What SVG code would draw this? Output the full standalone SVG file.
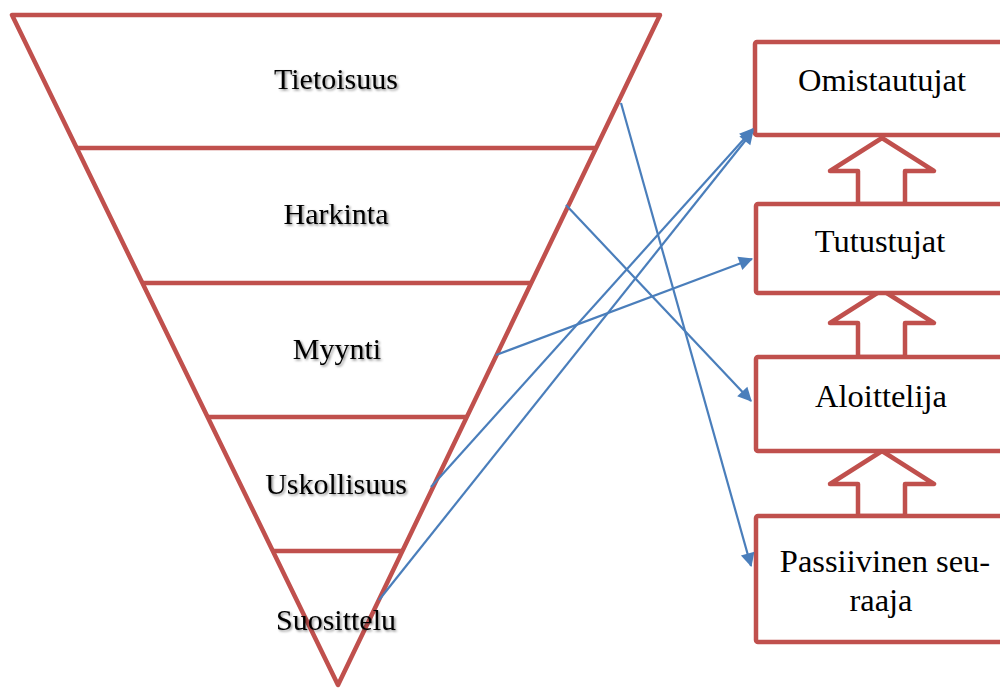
<svg xmlns="http://www.w3.org/2000/svg" width="1000" height="689" viewBox="0 0 1000 689">
<defs>
<style>
.red{fill:none;stroke:#C0504D;stroke-width:4.5;stroke-linejoin:round}
.box{fill:#FFFFFF;stroke:#C0504D;stroke-width:4.5;stroke-linejoin:round}
.con{fill:none;stroke:#4A7EBB;stroke-width:2.2}
.lbl{font-family:"Liberation Serif","Times New Roman",serif;font-size:30px;fill:#000;text-anchor:middle}
.blbl{font-family:"Liberation Serif","Times New Roman",serif;font-size:32.5px;fill:#000;text-anchor:middle}
</style>
<filter id="sh" x="-10%" y="-30%" width="130%" height="160%">
<feDropShadow dx="1.5" dy="1.5" stdDeviation="1" flood-color="#000" flood-opacity="0.45"/>
</filter>
<marker id="ah" viewBox="0 0 10 10" refX="9" refY="5" markerWidth="7" markerHeight="7" markerUnits="userSpaceOnUse" orient="auto" overflow="visible">
<path d="M0,0 L10,5 L0,10 z" fill="#4A7EBB" transform="scale(2) translate(-4.7,-2.6)"/>
</marker>
</defs>
<rect width="1000" height="689" fill="#FFFFFF"/>
<g id="funnel">
<path class="red" d="M12,15 L660,15 L338,685 Z"/>
<line class="red" x1="77" y1="148" x2="596" y2="148"/>
<line class="red" x1="142" y1="283" x2="531" y2="283"/>
<line class="red" x1="208" y1="417" x2="466" y2="417"/>
<line class="red" x1="272" y1="551" x2="402" y2="551"/>
</g>
<g id="funnel-labels" filter="url(#sh)">
<text id="tietoisuus" class="lbl" x="336" y="89">Tietoisuus</text>
<text id="harkinta" class="lbl" x="336" y="224">Harkinta</text>
<text id="myynti" class="lbl" x="337" y="359">Myynti</text>
<text id="uskollisuus" class="lbl" x="336" y="494">Uskollisuus</text>
<text id="suosittelu" class="lbl" x="336" y="630">Suosittelu</text>
</g>
<g id="up-arrows">
<path class="box" d="M882,138 L934,171 L905,171 L905,204 L858,204 L858,171 L830,171 Z"/>
<path class="box" d="M882,290 L934,323 L905,323 L905,357 L858,357 L858,323 L830,323 Z"/>
<path class="box" d="M882,451 L934,484 L905,484 L905,516 L858,516 L858,484 L830,484 Z"/>
</g>
<g id="omistautujat">
<rect class="box" x="755" y="42" width="260" height="93" rx="2"/>
<text class="blbl" x="882" y="91">Omistautujat</text>
</g>
<g id="tutustujat">
<rect class="box" x="756" y="204" width="260" height="89" rx="2"/>
<text class="blbl" x="880" y="252">Tutustujat</text>
</g>
<g id="aloittelija">
<rect class="box" x="756" y="357" width="260" height="94" rx="2"/>
<text class="blbl" x="881" y="407">Aloittelija</text>
</g>
<g id="passiivinen">
<rect class="box" x="756" y="516" width="260" height="126" rx="2"/>
<text class="blbl" x="885" y="572">Passiivinen seu-</text>
<text class="blbl" x="881" y="611">raaja</text>
</g>
<g id="connectors">
<line class="con" x1="621" y1="103" x2="751" y2="566" marker-end="url(#ah)"/>
<line class="con" x1="566" y1="205" x2="751" y2="401" marker-end="url(#ah)"/>
<line class="con" x1="496" y1="355" x2="752" y2="259" marker-end="url(#ah)"/>
<line class="con" x1="431" y1="487" x2="753" y2="129" marker-end="url(#ah)"/>
<line class="con" x1="379" y1="600" x2="753" y2="131" marker-end="url(#ah)"/>
</g>
</svg>
